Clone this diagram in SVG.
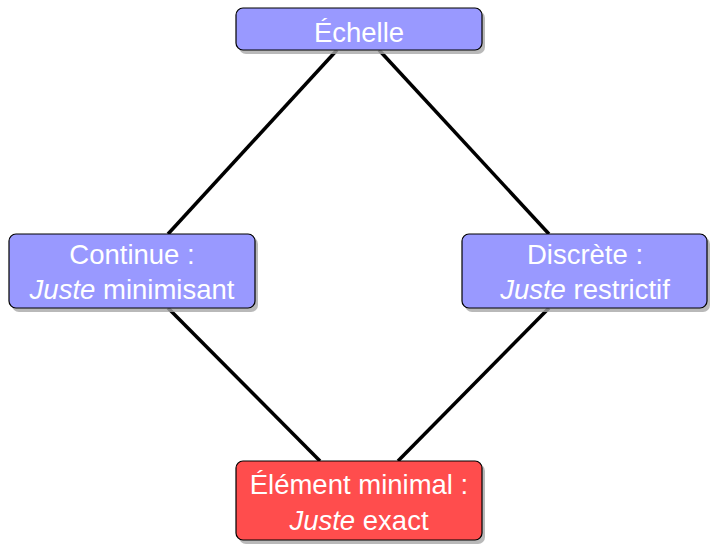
<svg xmlns="http://www.w3.org/2000/svg" width="712" height="544" viewBox="0 0 712 544">
<defs>
<style>
.sh{fill:#a8a8a8;opacity:0.8}
.box{stroke:#000;stroke-width:1.2}
.blue{fill:#9999ff}
.red{fill:#ff4d4d}
.t{font-family:"Liberation Sans",Arial,sans-serif;font-size:27.5px;fill:#fff;text-anchor:middle}
.edge{stroke:#000;stroke-width:3.5;fill:none}
</style>
</defs>
<rect width="712" height="544" fill="#fff"/>
<g id="connectors">
<line class="edge" x1="337" y1="50" x2="168" y2="234"/>
<line class="edge" x1="379" y1="50" x2="549" y2="234"/>
<line class="edge" x1="168" y1="308" x2="320" y2="461"/>
<line class="edge" x1="549" y1="308" x2="398" y2="461"/>
</g>
<g id="echelle">
<rect class="sh" x="239" y="11" width="246" height="43" rx="7"/>
<rect class="box blue" x="236" y="8" width="246" height="42" rx="7"/>
<text class="t" x="359" y="42">Échelle</text>
</g>
<g id="continue">
<rect class="sh" x="12" y="237" width="246" height="75" rx="7"/>
<rect class="box blue" x="9" y="234" width="246" height="74" rx="7"/>
<text class="t" x="132" y="264">Continue :</text>
<text class="t" x="132" y="299"><tspan font-style="italic">Juste</tspan> minimisant</text>
</g>
<g id="discrete">
<rect class="sh" x="465" y="237" width="245" height="75" rx="7"/>
<rect class="box blue" x="462" y="234" width="245" height="74" rx="7"/>
<text class="t" x="585" y="264">Discrète :</text>
<text class="t" x="585" y="299"><tspan font-style="italic">Juste</tspan> restrictif</text>
</g>
<g id="element">
<rect class="sh" x="239" y="464" width="246" height="80" rx="7"/>
<rect class="box red" x="236" y="461" width="246" height="79" rx="7"/>
<text class="t" x="359" y="494">Élément minimal :</text>
<text class="t" x="359" y="530"><tspan font-style="italic">Juste</tspan> exact</text>
</g>
</svg>
